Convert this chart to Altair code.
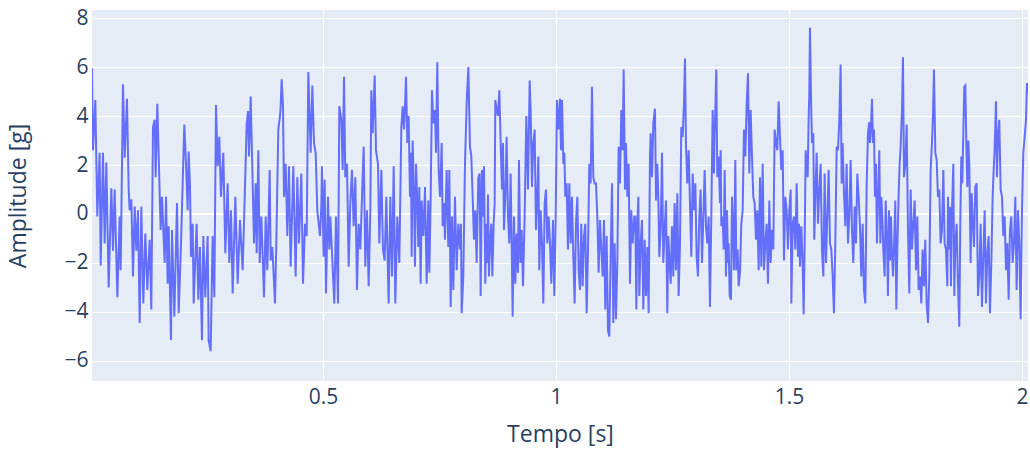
import altair as alt
import pandas as pd

# Vibration record: time [s] and acceleration amplitude [g], split into consecutive stretches
t_01 = [0.0043, 0.0064, 0.0114, 0.0157, 0.0207, 0.0229, 0.0279, 0.0315, 0.0350, 0.0401, 0.0458, 0.0494, 0.0529, 0.0587,
        0.0637, 0.0658, 0.0708, 0.0744, 0.0794, 0.0830, 0.0851, 0.0887, 0.0923, 0.0959, 0.0994, 0.1030, 0.1066, 0.1101,
        0.1144, 0.1187, 0.1230, 0.1280, 0.1316, 0.1352, 0.1388, 0.1409, 0.1445, 0.1516, 0.1545, 0.1602]
a_01 = [5.95, 2.6, 4.65, -0.1, 2.5, -2.1, 2.5, -1.2, 2.1, -3.0, 1.05, -1.5, 1.0, -3.4, -0.1, -2.3, 5.3, 2.3, 4.7, 1.0,
        0.15, 0.6, -2.55, 0.3, -1.5, 0.15, -4.45, 0.3, -3.65, -0.8, -3.1, -1.05, -3.9, 3.55, 3.85, 1.5, 4.5, -0.65, 0.7, -2.0]

t_02 = [0.1631, 0.1667, 0.1688, 0.1738, 0.1760, 0.1810, 0.1867, 0.1903, 0.1953, 0.2024, 0.2060, 0.2096, 0.2117, 0.2146,
        0.2167, 0.2203, 0.2225, 0.2289, 0.2325, 0.2360, 0.2403, 0.2432, 0.2475, 0.2525, 0.2546, 0.2589, 0.2632, 0.2668,
        0.2704, 0.2740, 0.2775, 0.2811, 0.2861, 0.2904, 0.2954, 0.2990, 0.3026, 0.3062, 0.3119, 0.3169, 0.3219, 0.3276, 0.3312]
a_02 = [0.7, -2.85, -0.5, -5.15, -0.65, -4.2, 0.45, -4.05, -1.2, 3.65, 2.05, 0.15, 2.55, 1.1, -1.75, -0.4, -3.65, -0.4,
        -3.5, -1.35, -5.15, -0.9, -3.4, -0.9, -5.15, -5.6, -0.9, -3.4, 4.45, 1.95, 3.15, 0.7, 2.5, -1.6, 1.25, -2.0, 0.15,
        -3.25, 0.7, -2.85, -0.25, -2.3, 0.15]

t_03 = [0.3362, 0.3391, 0.3412, 0.3448, 0.3491, 0.3519, 0.3555, 0.3577, 0.3612, 0.3641, 0.3677, 0.3734, 0.3770, 0.3805,
        0.3856, 0.3877, 0.3913, 0.3970, 0.3998, 0.4041, 0.4077, 0.4092, 0.4113, 0.4142, 0.4163, 0.4199, 0.4234, 0.4270,
        0.4306, 0.4363, 0.4413, 0.4449, 0.4485, 0.4535, 0.4571, 0.4614, 0.4650, 0.4685, 0.4735, 0.4771, 0.4807, 0.4843,
        0.4878, 0.4936, 0.4964]
a_03 = [3.65, 4.2, 2.35, 4.8, 1.25, -1.2, 1.25, -1.6, 2.6, -2.0, -0.1, -3.4, -0.1, -2.3, 1.8, -1.9, -1.35, -3.65, -1.2,
        3.45, 4.0, 4.4, 5.5, 4.4, 0.7, 2.05, -0.9, 1.95, -2.15, 1.95, -2.55, 1.5, -1.2, 1.65, -2.85, -0.4, -0.9, 5.8, 2.5,
        5.25, 2.9, 2.5, 0.15, -0.9, 0.3]

t_04 = [0.4978, 0.5014, 0.5036, 0.5064, 0.5107, 0.5136, 0.5157, 0.5243, 0.5279, 0.5322, 0.5350, 0.5393, 0.5422, 0.5451,
        0.5479, 0.5515, 0.5551, 0.5586, 0.5622, 0.5658, 0.5694, 0.5729, 0.5765, 0.5801, 0.5837, 0.5873, 0.5908, 0.5944,
        0.5980, 0.6016, 0.6037, 0.6066, 0.6109, 0.6137, 0.6180, 0.6209, 0.6252, 0.6287, 0.6323, 0.6359, 0.6409, 0.6445,
        0.6481, 0.6517, 0.6552, 0.6595, 0.6638, 0.6681]
a_04 = [1.95, -1.75, 1.4, -3.25, 0.7, -1.45, -0.1, -3.65, -0.1, -3.65, 4.4, 3.85, 1.8, 5.6, 1.5, 2.05, -2.15, 0.45, 1.8,
        -0.5, 1.5, -3.1, -0.4, -1.45, 0.7, 2.75, -2.15, 0.15, -2.95, 0.15, 5.05, 3.3, 5.65, 2.6, 2.05, -1.2, 1.8, -1.45,
        -1.9, 0.7, -3.65, 0.7, -2.55, 1.95, -3.65, -0.1, -2.0, 3.55]

t_05 = [0.6710, 0.6738, 0.6760, 0.6781, 0.6810, 0.6838, 0.6867, 0.6888, 0.6903, 0.6924, 0.6953, 0.6974, 0.6996, 0.7024,
        0.7046, 0.7067, 0.7096, 0.7117, 0.7153, 0.7189, 0.7225, 0.7260, 0.7282, 0.7310, 0.7339, 0.7367, 0.7403, 0.7425,
        0.7453, 0.7482, 0.7511, 0.7547, 0.7568, 0.7596, 0.7618, 0.7654, 0.7689, 0.7711, 0.7740, 0.7768, 0.7797, 0.7832,
        0.7868, 0.7904, 0.7940, 0.7961, 0.7976, 0.8011, 0.8047, 0.8083, 0.8119, 0.8154, 0.8183, 0.8212, 0.8240, 0.8269,
        0.8297, 0.8333]
a_05 = [4.4, 3.45, 4.4, 5.6, 2.9, 4.0, 0.7, 2.5, -1.75, 3.0, 0.7, -2.15, 2.05, 0.45, -1.35, 1.1, -2.85, 0.55, -0.9, 1.1,
        -2.85, 0.55, -2.4, 0.55, 5.05, 3.7, 4.25, 2.5, 6.2, 1.8, 0.7, 2.9, -0.5, 0.45, -1.05, 1.8, -1.35, 1.8, -3.8, -0.1,
        -3.1, 0.7, -2.3, -0.4, -1.45, -0.4, -4.05, -2.55, 2.05, 4.5, 6.0, 2.75, 2.35, 0.7, -1.05, 0.15, -2.0, 1.5]

t_06 = [0.8362, 0.8383, 0.8412, 0.8433, 0.8455, 0.8483, 0.8505, 0.8526, 0.8541, 0.8562, 0.8584, 0.8612, 0.8634, 0.8662,
        0.8684, 0.8698, 0.8727, 0.8755, 0.8784, 0.8813, 0.8841, 0.8863, 0.8884, 0.8913, 0.8941, 0.8970, 0.8998, 0.9027,
        0.9049, 0.9070, 0.9099, 0.9127, 0.9156, 0.9184, 0.9206, 0.9234, 0.9263, 0.9292, 0.9327, 0.9363, 0.9399, 0.9435,
        0.9456, 0.9485, 0.9513, 0.9542, 0.9571, 0.9599, 0.9621, 0.9642, 0.9671, 0.9699, 0.9728, 0.9757, 0.9785, 0.9814,
        0.9843, 0.9871, 0.9900, 0.9936, 0.9964, 0.9993, 1.0021]
a_06 = [1.65, -3.35, 1.8, -0.1, 1.95, -2.85, -0.4, -2.0, 0.8, -2.55, -1.2, -0.4, -2.55, -0.4, 0.45, 4.65, 4.25, 4.0, 5.05,
        2.9, 1.0, 2.9, -0.65, 0.7, 3.15, -0.1, -1.2, 1.65, -1.2, -4.2, -0.1, -2.85, -0.8, -2.4, 2.2, -2.0, -0.65, -2.95,
        -0.1, 4.0, 1.0, 5.45, 4.25, 1.1, 2.9, 3.45, -0.65, 0.7, 2.35, -2.3, 0.15, -1.2, -3.65, 0.45, 1.0, -1.2, -0.1, -1.2,
        -2.85, -0.25, -3.35, -0.25, 4.65]

t_07 = [1.0057, 1.0086, 1.0107, 1.0129, 1.0157, 1.0179, 1.0200, 1.0229, 1.0257, 1.0286, 1.0315, 1.0343, 1.0372, 1.0400,
        1.0429, 1.0458, 1.0486, 1.0515, 1.0543, 1.0572, 1.0601, 1.0629, 1.0658, 1.0687, 1.0715, 1.0744, 1.0772, 1.0801,
        1.0830, 1.0858, 1.0887, 1.0915, 1.0944, 1.0973, 1.1001, 1.1030, 1.1058, 1.1087, 1.1116, 1.1144, 1.1173, 1.1202,
        1.1230, 1.1259, 1.1287, 1.1316, 1.1345, 1.1373, 1.1402, 1.1430, 1.1452, 1.1481, 1.1502, 1.1531, 1.1559, 1.1588,
        1.1616, 1.1645, 1.1681]
a_07 = [3.45, 4.7, 2.6, 4.65, 2.05, 2.5, 0.7, 1.25, -1.45, 1.25, -1.2, 0.7, -1.75, -3.65, -0.4, 0.7, -2.3, -3.1, -0.4,
        -2.95, -0.9, -0.4, -4.05, -1.45, 2.05, 1.25, 5.2, 1.5, 1.25, 1.25, -0.1, -2.4, -0.25, -1.45, -2.55, -0.25, -3.9,
        -0.9, -4.75, -5.0, -1.75, 1.25, -4.45, -1.2, -4.3, -2.0, 2.75, 1.25, 4.25, 2.6, 5.9, 1.0, 2.9, 0.7, 2.05, -2.85,
        0.15, -1.2, -0.1]

t_08 = [1.1702, 1.1724, 1.1745, 1.1767, 1.1788, 1.1817, 1.1845, 1.1874, 1.1903, 1.1931, 1.1960, 1.1988, 1.2017, 1.2031,
        1.2060, 1.2088, 1.2124, 1.2146, 1.2174, 1.2196, 1.2217, 1.2246, 1.2275, 1.2303, 1.2332, 1.2360, 1.2389, 1.2410,
        1.2432, 1.2461, 1.2489, 1.2518, 1.2546, 1.2575, 1.2604, 1.2632, 1.2661, 1.2689, 1.2718, 1.2747, 1.2768, 1.2790,
        1.2818, 1.2847, 1.2875, 1.2904, 1.2933, 1.2961, 1.2990, 1.3018, 1.3047, 1.3076, 1.3104, 1.3133, 1.3161, 1.3190,
        1.3219, 1.3247, 1.3276, 1.3304, 1.3333, 1.3362, 1.3390]
a_08 = [-0.1, -3.9, -0.4, 0.7, -3.35, -1.2, -0.25, -3.9, -1.05, -3.35, -1.35, -4.05, 2.35, 3.3, 1.5, 3.7, 4.3, 0.55,
        2.05, 0.7, -1.75, -0.65, 2.5, -2.0, -0.65, 0.55, -4.05, -0.9, -1.75, -2.85, -0.5, -2.55, 0.45, -2.3, 0.85, -3.35,
        -1.2, 3.55, 3.15, 4.5, 6.35, 2.75, 1.25, 2.6, 0.45, -1.75, 1.65, 0.15, 1.25, -1.75, -2.55, -0.1, 1.0, -2.0, -0.25,
        1.8, -0.5, -1.2, -0.1, -3.8, -0.1, 4.25, 1.65]

t_09 = [1.3405, 1.3419, 1.3440, 1.3462, 1.3491, 1.3519, 1.3534, 1.3548, 1.3577, 1.3598, 1.3620, 1.3648, 1.3670, 1.3691,
        1.3705, 1.3727, 1.3755, 1.3777, 1.3798, 1.3820, 1.3848, 1.3870, 1.3898, 1.3920, 1.3948, 1.3977, 1.4006, 1.4034,
        1.4063, 1.4091, 1.4120, 1.4149, 1.4177, 1.4206, 1.4234, 1.4263, 1.4292, 1.4320, 1.4349, 1.4378, 1.4406, 1.4435,
        1.4463, 1.4492, 1.4521, 1.4549, 1.4578, 1.4606, 1.4635, 1.4664, 1.4692, 1.4721, 1.4749, 1.4778, 1.4807, 1.4835,
        1.4864, 1.4893, 1.4921, 1.4950, 1.4978, 1.5007, 1.5036]
a_09 = [3.3, 4.25, 5.9, 1.5, 2.35, 0.45, 2.6, -0.5, -0.1, -1.45, 1.8, -2.55, 0.15, -2.0, -1.2, -3.35, -3.5, 0.7, -0.5,
        -2.3, 2.2, -2.3, -1.45, -2.95, -2.4, -0.4, 0.15, 3.45, 2.35, 4.4, 5.75, 1.65, 4.25, 2.35, 0.7, 0.45, -1.05, 0.15,
        -2.3, 1.5, -2.15, 2.05, -2.3, -1.2, -0.4, -2.85, 0.55, -2.0, -0.65, -1.45, 3.45, 2.9, 2.6, 4.6, 3.15, 1.8, 2.6,
        -1.9, 0.7, 0.15, -1.45, 0.15, 1.0]

t_10 = [1.5050, 1.5079, 1.5107, 1.5136, 1.5165, 1.5193, 1.5215, 1.5236, 1.5265, 1.5293, 1.5315, 1.5336, 1.5358, 1.5379,
        1.5401, 1.5422, 1.5436, 1.5450, 1.5472, 1.5493, 1.5522, 1.5543, 1.5565, 1.5594, 1.5622, 1.5651, 1.5679, 1.5708,
        1.5737, 1.5765, 1.5794, 1.5822, 1.5851, 1.5880, 1.5908, 1.5937, 1.5965, 1.5994, 1.6023, 1.6051, 1.6080, 1.6108,
        1.6130, 1.6151, 1.6180, 1.6209, 1.6237, 1.6266, 1.6294, 1.6323, 1.6352, 1.6380, 1.6409, 1.6437, 1.6466, 1.6495,
        1.6523, 1.6552, 1.6581, 1.6609, 1.6638, 1.6666, 1.6695, 1.6724]
a_10 = [-3.65, -0.4, -0.1, -1.45, 1.25, -1.75, -0.4, -2.15, -0.5, -2.0, -4.1, -1.2, 2.6, 1.8, 1.5, 3.95, 4.9, 7.6, 4.8,
        2.9, 3.3, -1.05, 0.7, 2.5, -0.4, 1.0, 2.05, -1.45, -2.55, 1.65, -2.0, -0.1, 1.8, -1.2, -1.45, -2.55, -4.05, -1.2,
        2.75, 2.6, 3.85, 6.1, 1.25, 2.9, 0.85, -0.5, 2.05, -1.2, -0.1, 2.2, -0.65, -2.0, 0.3, -1.2, 1.65, 0.7, -0.5,
        -2.55, -0.4, -3.1, -3.65, 1.1, 3.3, 3.75]

t_11 = [1.6738, 1.6759, 1.6781, 1.6802, 1.6824, 1.6845, 1.6867, 1.6888, 1.6910, 1.6938, 1.6960, 1.6981, 1.7003, 1.7024,
        1.7053, 1.7074, 1.7103, 1.7124, 1.7146, 1.7167, 1.7189, 1.7210, 1.7232, 1.7253, 1.7282, 1.7303, 1.7325, 1.7354,
        1.7375, 1.7396, 1.7425, 1.7446, 1.7468, 1.7497, 1.7525, 1.7554, 1.7582, 1.7611, 1.7639, 1.7668, 1.7697, 1.7725,
        1.7754, 1.7782, 1.7811, 1.7840, 1.7868, 1.7897, 1.7925, 1.7954, 1.7983, 1.8011, 1.8040, 1.8068, 1.8090, 1.8111,
        1.8140, 1.8169, 1.8197, 1.8226, 1.8254, 1.8283, 1.8312, 1.8340, 1.8369, 1.8398]
a_11 = [2.9, 3.55, 4.7, 2.9, 3.45, 0.7, 2.05, -1.2, 0.45, 2.6, -1.2, 0.7, -0.1, -1.45, -2.55, 0.55, -1.05, -3.35, 0.15,
        -1.9, -0.1, -1.6, -2.55, -1.45, 0.55, -3.9, -1.45, 0.85, 2.05, 2.75, 4.25, 6.4, 1.5, 2.05, 3.65, -0.65, -3.25, 1.0,
        -1.45, -0.4, 0.55, -2.3, -0.1, -3.1, -2.55, -3.65, -1.45, -2.95, -1.05, -3.65, -4.45, -2.55, 1.8, 2.9, 4.0, 5.9,
        2.5, 2.2, 0.7, 1.0, -1.2, -0.65, 1.8, -1.2, -1.45, -2.95]

t_12 = [1.8412, 1.8433, 1.8455, 1.8476, 1.8498, 1.8526, 1.8548, 1.8569, 1.8598, 1.8626, 1.8655, 1.8676, 1.8698, 1.8719,
        1.8741, 1.8762, 1.8784, 1.8805, 1.8827, 1.8848, 1.8869, 1.8898, 1.8920, 1.8941, 1.8970, 1.8998, 1.9027, 1.9056,
        1.9084, 1.9113, 1.9141, 1.9170, 1.9199, 1.9227, 1.9256, 1.9284, 1.9313, 1.9342, 1.9370, 1.9392, 1.9413, 1.9442,
        1.9463, 1.9485, 1.9513, 1.9542, 1.9571, 1.9599, 1.9628, 1.9656, 1.9685, 1.9714, 1.9742, 1.9771, 1.9799, 1.9828,
        1.9857, 1.9885, 1.9914, 1.9942, 1.9971, 2.0000, 2.0028, 2.0057, 2.0086, 2.0107, 2.0129]
a_12 = [0.7, -1.45, 0.3, -2.95, 0.15, 2.05, -3.35, -1.2, -0.4, -2.85, -4.6, -0.4, 2.35, 1.25, 3.3, 5.2, 5.25, 2.9, 1.1,
        3.0, 2.05, -2.0, 0.85, -0.1, -1.35, 1.1, 1.25, -3.35, -2.55, -0.4, -3.8, -1.75, 0.15, -3.65, -1.6, -0.9, -4.05,
        -2.0, 0.7, 1.8, 2.6, 4.6, 1.5, 3.15, 3.85, 1.0, 0.7, -0.9, -0.1, -2.3, -1.2, -3.5, -0.65, -0.1, -2.0, -1.2, 0.7,
        -3.1, 0.15, -1.2, -4.3, 0.15, 2.5, 3.15, 3.85, 5.35, 4.9]

x_ticks = [0.5, 1.0, 1.5, 2.0]
y_ticks = [-6, -4, -2, 0, 2, 4, 6, 8]

times = t_01 + t_02 + t_03 + t_04 + t_05 + t_06 + t_07 + t_08 + t_09 + t_10 + t_11 + t_12
amps = a_01 + a_02 + a_03 + a_04 + a_05 + a_06 + a_07 + a_08 + a_09 + a_10 + a_11 + a_12
df = pd.DataFrame({"t": times, "a": amps})

FONT = "Open Sans"
TXT = "#2a3f5f"
TICK_SIZE = 21
TITLE_SIZE = 23

x_enc = alt.X(
    "t:Q",
    scale=alt.Scale(domain=[0.0043, 2.0129], nice=False, zero=False),
    axis=alt.Axis(
        title="Tempo [s]", values=x_ticks, labelExpr="format(datum.value, '~g')",
        grid=True, gridColor="white", gridWidth=1, domain=False, ticks=False,
        labelFont=FONT, labelFontSize=TICK_SIZE, labelColor=TXT, labelPadding=5,
        titleFont=FONT, titleFontSize=TITLE_SIZE, titleFontWeight="normal", titleColor=TXT,
        titlePadding=16,
    ),
)
y_enc = alt.Y(
    "a:Q",
    scale=alt.Scale(domain=[-6.82, 8.33], nice=False, zero=False),
    axis=alt.Axis(
        title="Amplitude [g]", values=y_ticks,
        labelExpr="replace(format(datum.value, 'd'), '-', '\u2212')",
        grid=True, gridColor="white", gridWidth=1, domain=False, ticks=False,
        labelFont=FONT, labelFontSize=TICK_SIZE, labelColor=TXT, labelPadding=4,
        titleFont=FONT, titleFontSize=TITLE_SIZE, titleFontWeight="normal", titleColor=TXT,
        titlePadding=33,
    ),
)

line = alt.Chart(df).mark_line(color="#636efa", strokeWidth=2, clip=True).encode(
    x=x_enc, y=y_enc, order="t:Q"
)

zero_line = alt.Chart(df).mark_rule(color="white", strokeWidth=2).encode(y=alt.datum(0))

chart = (
    alt.layer(zero_line, line)
    .properties(
        width=936, height=371,
        autosize=alt.AutoSizeParams(type="none"),
        padding={"left": 92, "top": 10, "right": 2, "bottom": 70},
        background="white",
    )
    .configure_view(fill="#E5ECF6", stroke=None)
)

chart.save("out.html", embed_options={"renderer": "svg", "actions": False})
